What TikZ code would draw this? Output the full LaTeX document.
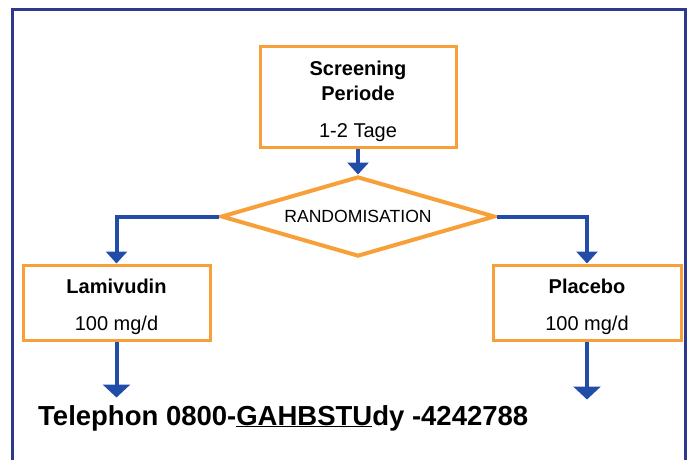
\documentclass[tikz,border=0pt]{standalone}
\usepackage{fontspec}
\setmainfont{Liberation Sans}
\usetikzlibrary{arrows.meta,positioning,shapes.geometric}
\definecolor{frameblue}{RGB}{46,56,142}
\definecolor{flowblue}{RGB}{33,76,168}
\definecolor{boxorange}{RGB}{247,160,58}

\begin{document}
\begin{tikzpicture}[x=1pt, y=1pt, >=Latex]
\tikzstyle{box}=[draw=boxorange, line width=3pt, fill=white, align=center, inner sep=0pt, font=\fontsize{20}{25}\selectfont]
\tikzstyle{decide}=[diamond, draw=boxorange, line width=4pt, fill=white, aspect=3.4, inner sep=0pt, minimum width=274pt, minimum height=80pt, font=\fontsize{17.6}{20}\selectfont]
\tikzstyle{flow}=[draw=flowblue, line width=4pt, -{Triangle[width=21pt,length=12pt]}]
\tikzstyle{flowend}=[draw=flowblue, line width=4pt, -{Triangle[width=27pt,length=13pt]}]
\useasboundingbox (0,0) rectangle (692,459);
\draw[frameblue, line width=3pt] (12,-5) -- (12,449) -- (685,449) -- (685,-5);
\node[box, minimum width=196pt, minimum height=100pt] (screen) at (358,362) {\mbox{}\\[-2pt]\textbf{Screening}\\\textbf{Periode}\\[12pt]1-2 Tage};
\node[decide, below=26pt of screen] (rand) {RANDOMISATION};
\node[box, minimum width=187pt, minimum height=75pt] (lami) at (116.5,156.5) {\mbox{}\\[-2pt]\textbf{Lamivudin}\\[12pt]100 mg/d};
\node[box, minimum width=188pt, minimum height=75pt] (plac) at (587,156.5) {\mbox{}\\[-2pt]\textbf{Placebo}\\[12pt]100 mg/d};
\coordinate[below=56pt of lami.south] (lamiend);
\coordinate[below=58pt of plac.south] (placend);
\draw[flow] (screen) -- (rand);
\draw[flow] (rand.west) -| (lami.north);
\draw[flow] (rand.east) -| (plac.north);
\draw[flowend] (lami) -- (lamiend);
\draw[flowend] (plac) -- (placend);
\node[anchor=base west, inner sep=0pt, font=\fontsize{27.5}{33}\selectfont\bfseries] (phone) at (38,34) {Telephon 0800-\underline{GAHBSTU}dy -4242788};
\end{tikzpicture}
\end{document}
